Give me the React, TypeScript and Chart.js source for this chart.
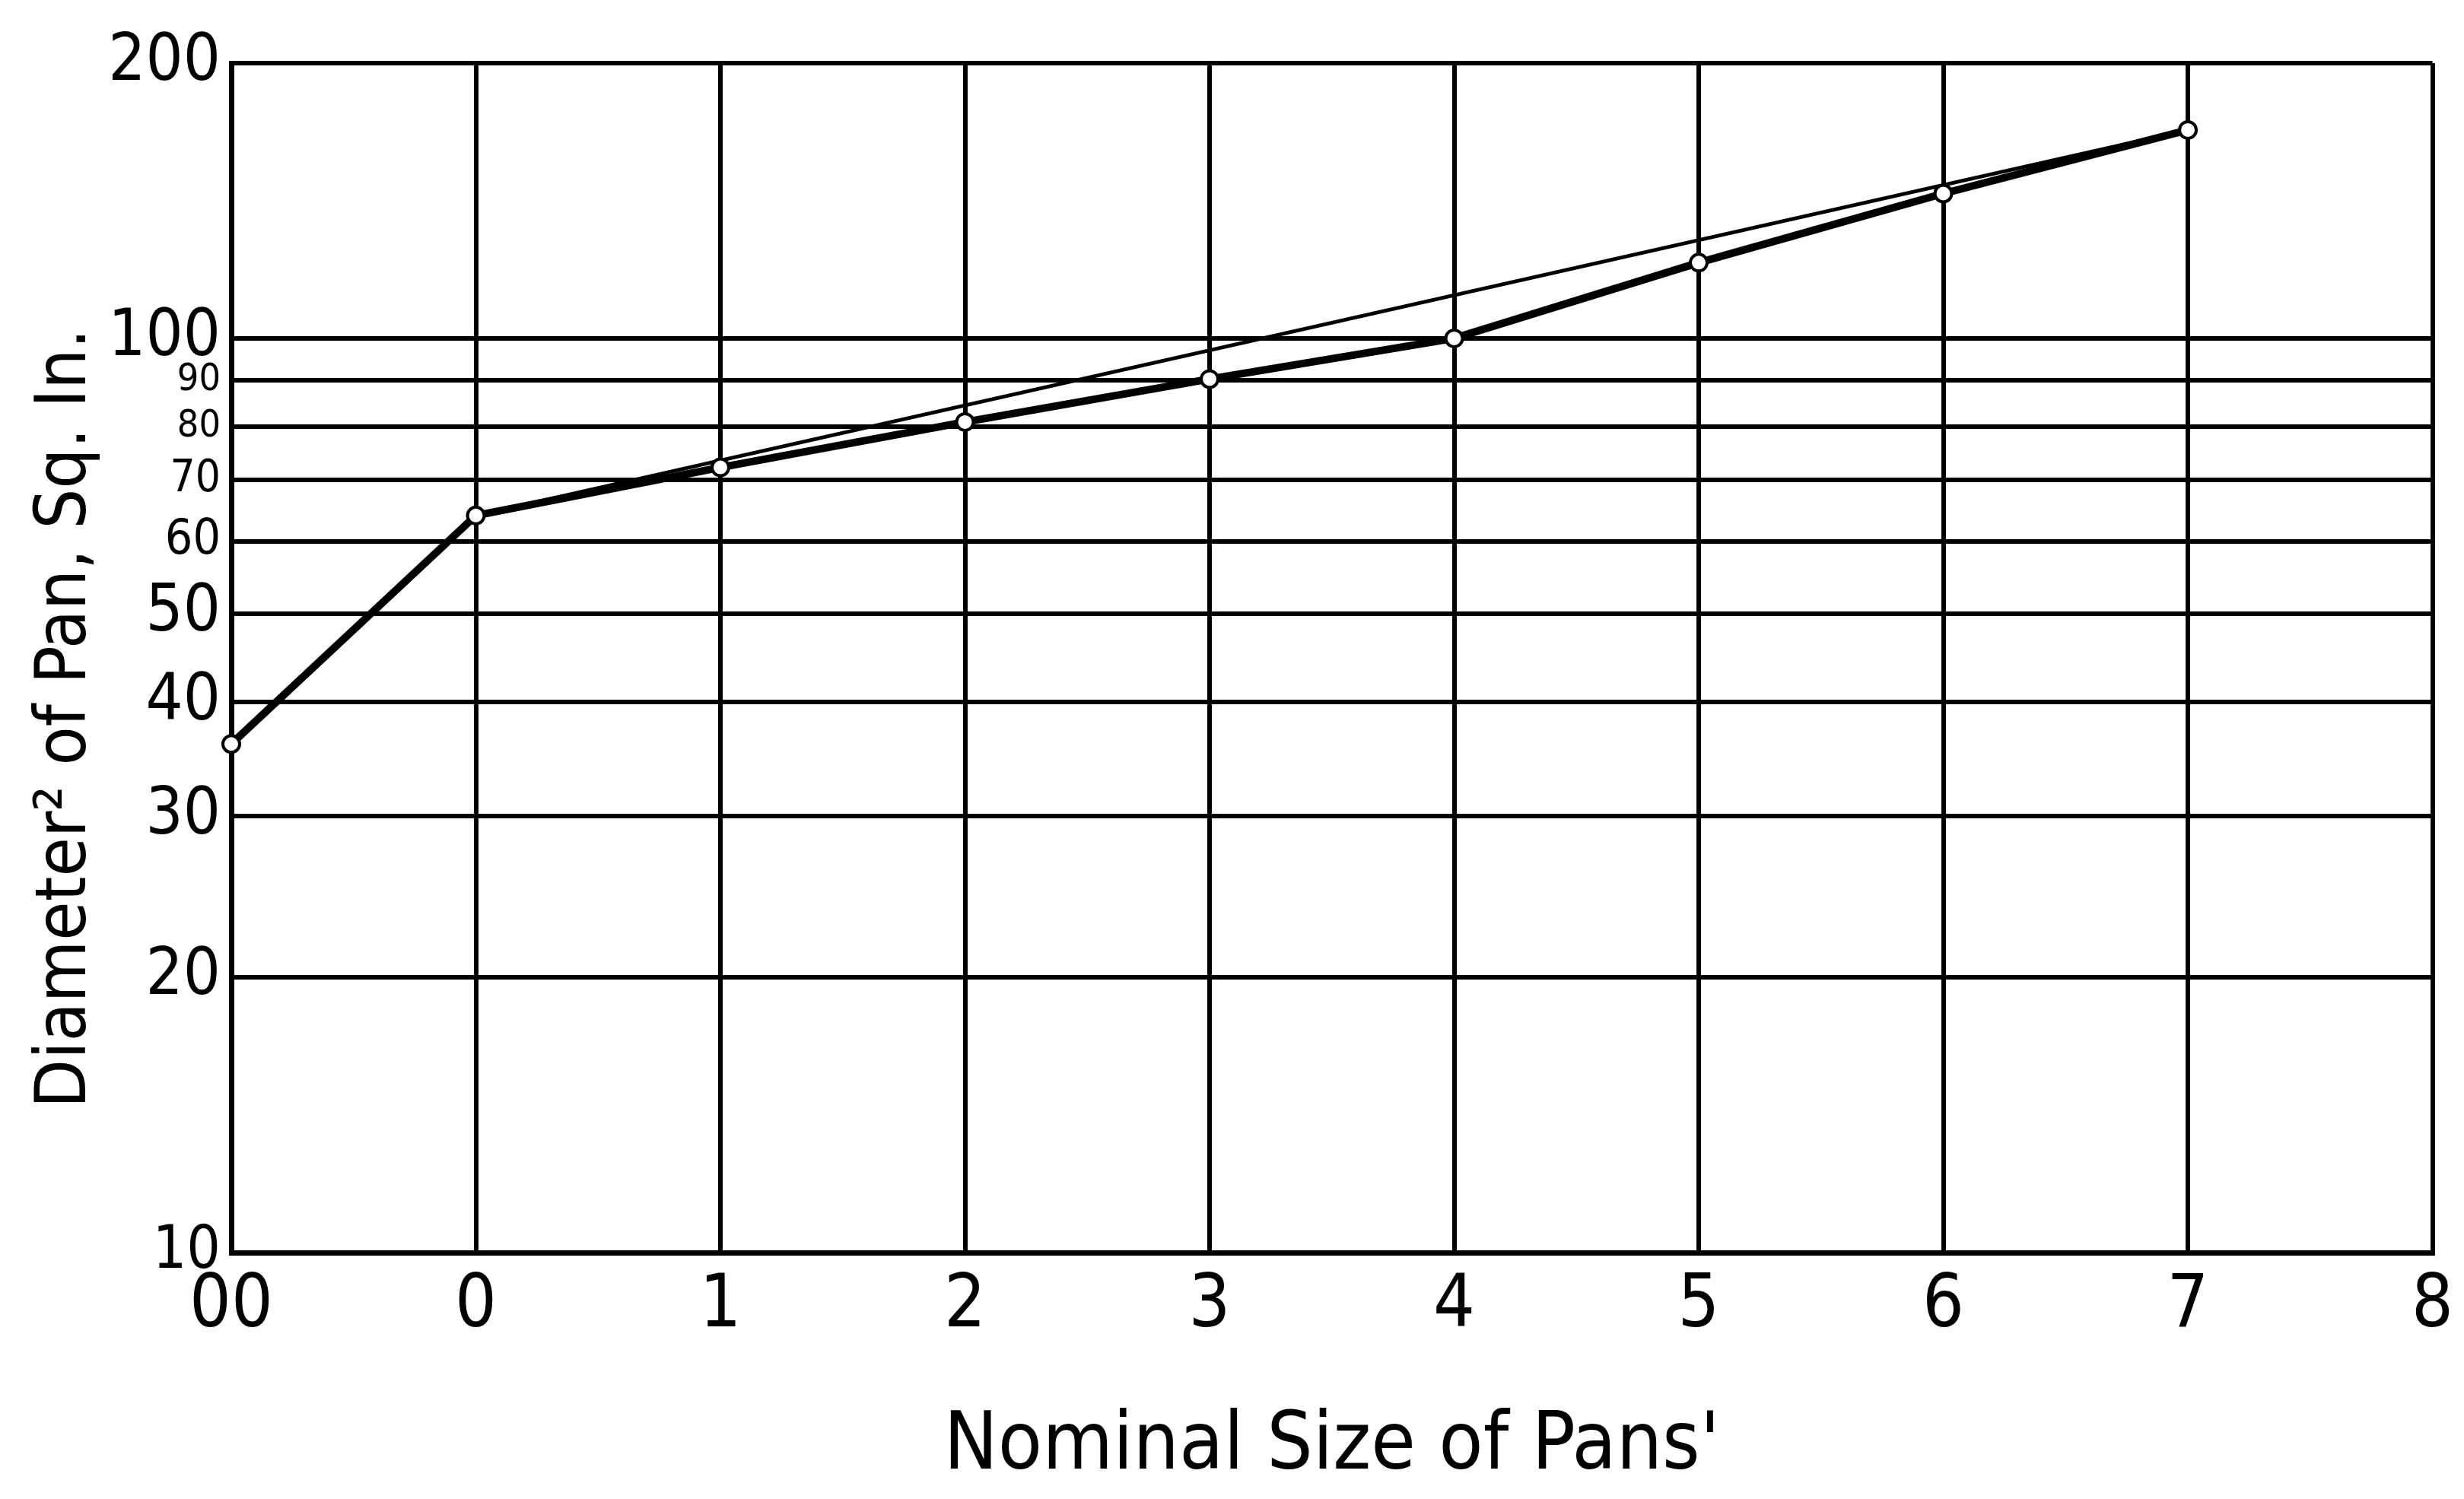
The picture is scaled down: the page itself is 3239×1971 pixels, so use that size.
import React, { useEffect, useRef } from "react";
import { Chart, registerables } from "chart.js";

Chart.register(...registerables);

// Nominal pan sizes (x position -1 stands for size "00")
const sizePositions = [-1, 0, 1, 2, 3, 4, 5, 6, 7];
// Diameter squared of pan, sq. in. (measured curve)
const diameterSquared = [36, 64, 72.25, 81, 90.25, 100, 121, 144, 169];
// Straight reference line
const lineSizes = [0, 7];
const lineValues = [64, 169];
// Axis ticks
const xTickValues = [-1, 0, 1, 2, 3, 4, 5, 6, 7, 8];
const xTickLabels = ["00", "0", "1", "2", "3", "4", "5", "6", "7", "8"];
const yTickValues = [10, 20, 30, 40, 50, 60, 70, 80, 90, 100, 200];

const xTitle = "Nominal Size of Pans'";
const yTitle = "Diameter² of Pan, Sq. In.";

const W = 3239;
const H = 1971;
const FONT = '"Liberation Sans Narrow", "DejaVu Sans Condensed", "Open Sans", sans-serif';

function yTickFontSize(v: number): number {
  if (v === 90 || v === 80) return 50;
  if (v === 70) return 58;
  if (v === 60) return 64;
  if (v === 10) return 78;
  return 86;
}

export default function App() {
  const ref = useRef<HTMLCanvasElement | null>(null);

  useEffect(() => {
    if (!ref.current) return;
    const measured = sizePositions.map((x, i) => ({ x, y: diameterSquared[i] }));
    const straight = lineSizes.map((x, i) => ({ x, y: lineValues[i] }));
    const chart = new Chart(ref.current, {
      type: "line",
      data: {
        datasets: [
          {
            data: straight,
            borderColor: "#000",
            borderWidth: 5,
            pointRadius: 0,
            order: 2,
          },
          {
            data: measured,
            borderColor: "#000",
            borderWidth: 10,
            pointRadius: 11,
            pointBorderWidth: 4,
            pointBackgroundColor: "#fff",
            pointBorderColor: "#000",
            clip: false,
            order: 1,
          },
        ],
      },
      options: {
        animation: false,
        responsive: false,
        devicePixelRatio: 1,
        layout: { padding: { left: 0, top: 83, right: 37, bottom: 0 } },
        plugins: { legend: { display: false }, tooltip: { enabled: false } },
        scales: {
          x: {
            type: "linear",
            min: -1,
            max: 8,
            afterBuildTicks: (scale: any) => {
              scale.ticks = xTickValues.map((v) => ({ value: v }));
            },
            afterFit: (scale: any) => {
              scale.height = H - 1647;
            },
            ticks: {
              autoSkip: false,
              maxRotation: 0,
              padding: 14,
              color: "#000",
              font: { family: FONT, size: 96 },
              callback: (v: any) => xTickLabels[xTickValues.indexOf(Number(v))] ?? "",
            },
            grid: { color: "#000", lineWidth: 6, drawTicks: false },
            border: { color: "#000", width: 7 },
            title: {
              display: true,
              text: xTitle,
              color: "#000",
              font: { family: FONT, size: 106 },
              padding: { top: 0, bottom: 4 },
            },
          },
          y: {
            type: "logarithmic",
            min: 10,
            max: 200,
            afterBuildTicks: (scale: any) => {
              scale.ticks = yTickValues.map((v) => ({ value: v }));
            },
            afterFit: (scale: any) => {
              scale.width = 304;
            },
            ticks: {
              autoSkip: false,
              padding: 14,
              color: "#000",
              font: (ctx: any) => ({ family: FONT, size: yTickFontSize(ctx.tick ? ctx.tick.value : 0) }),
              callback: (v: any) => String(v),
            },
            grid: { color: "#000", lineWidth: 6, drawTicks: false },
            border: { color: "#000", width: 7 },
            title: {
              display: true,
              text: yTitle + "      ",
              color: "#000",
              font: { family: FONT, size: 93 },
              padding: { top: 32, bottom: 0 },
            },
          },
        },
      },
    });
    return () => chart.destroy();
  }, []);

  return (
    <div style={{ position: "absolute", left: 0, top: 0, width: W, height: H, background: "#fff" }}>
      <canvas ref={ref} width={W} height={H} style={{ display: "block", width: W, height: H }} />
    </div>
  );
}
